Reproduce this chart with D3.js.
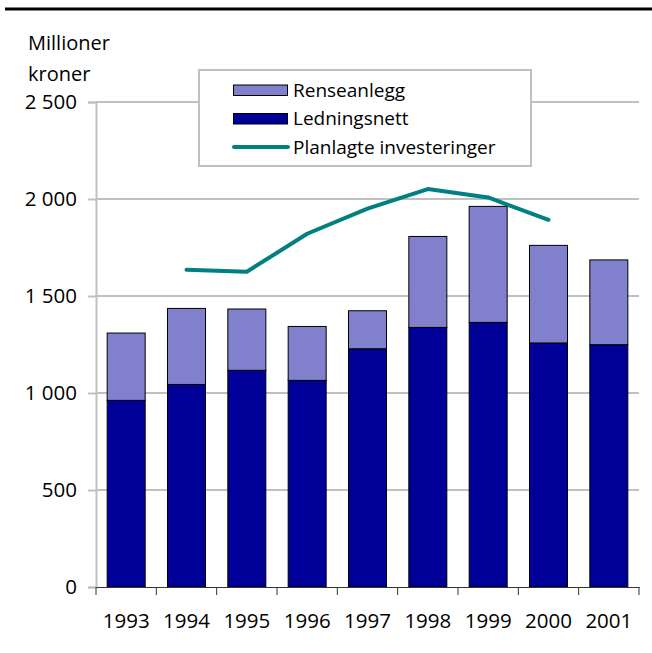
<!DOCTYPE html>
<html>
<head>
<meta charset="utf-8">
<script src="https://cdn.jsdelivr.net/npm/d3@7"></script>
<style>
  body { margin: 0; background: #fff; }
  svg { display: block; font-family: 'Open Sans', sans-serif; }
</style>
</head>
<body>
<div id="chart"></div>
<script>
'use strict'

const years = ['1993', '1994', '1995', '1996', '1997', '1998', '1999', '2000', '2001']
const ledningsnett = [962, 1044, 1117, 1065, 1228, 1338, 1364, 1258, 1249]
const renseanlegg = [347, 392, 316, 278, 196, 469, 598, 503, 437]
const planYears = ['1994', '1995', '1996', '1997', '1998', '1999', '2000']
const planlagte = [1635, 1625, 1821, 1950, 2051, 2008, 1893]
const yTicks = [0, 500, 1000, 1500, 2000, 2500]

const width = 652
const height = 653
const margin = { left: 96, right: 13, top: 102, bottom: 66 }

const colorRense = '#8080cc'
const colorLed = '#000099'
const colorPlan = '#008080'
const grid = '#c0c0c0'

const svg = d3.select('#chart')
  .append('svg')
  .attr('width', width)
  .attr('height', height)

// black rule at top
svg.append('line')
  .attr('x1', 5).attr('x2', width)
  .attr('y1', 9).attr('y2', 9)
  .attr('stroke', '#000').attr('stroke-width', 3)

const x = d3.scaleBand()
  .domain(years)
  .range([margin.left, width - margin.right])
  .paddingInner(0.37)
  .paddingOuter(0.185)

const y = d3.scaleLinear()
  .domain([0, 2500])
  .range([height - margin.bottom, margin.top])

// gridlines
svg.append('g')
  .selectAll('line')
  .data(yTicks.filter(d => d > 0))
  .enter()
  .append('line')
  .attr('x1', margin.left).attr('x2', width - margin.right)
  .attr('y1', d => y(d)).attr('y2', d => y(d))
  .attr('stroke', grid).attr('stroke-width', 2)

// y axis
const yAxis = svg.append('g')
  .attr('transform', 'translate(' + margin.left + ',0)')
  .call(d3.axisLeft(y).tickValues(yTicks).tickSize(8).tickPadding(11))
yAxis.select('.domain').attr('stroke', grid).attr('stroke-width', 2)
yAxis.selectAll('.tick line').attr('stroke', grid).attr('stroke-width', 2)
yAxis.selectAll('.tick text')
  .attr('font-size', 20.5).attr('fill', '#000')
  .attr('font-family', "'Open Sans', sans-serif")
  .text(d => d >= 1000 ? Math.floor(d / 1000) + ' ' + d3.format('03')(d % 1000) : d)

// stacked bars
const stack = years.map((yr, i) => ({ yr: yr, led: ledningsnett[i], rense: renseanlegg[i] }))

svg.append('g')
  .selectAll('rect')
  .data(stack)
  .enter()
  .append('rect')
  .attr('x', d => x(d.yr))
  .attr('width', x.bandwidth())
  .attr('y', d => y(d.led))
  .attr('height', d => y(0) - y(d.led))
  .attr('fill', colorLed)
  .attr('stroke', '#000').attr('stroke-width', 1)

svg.append('g')
  .selectAll('rect')
  .data(stack)
  .enter()
  .append('rect')
  .attr('x', d => x(d.yr))
  .attr('width', x.bandwidth())
  .attr('y', d => y(d.led + d.rense))
  .attr('height', d => y(d.led) - y(d.led + d.rense))
  .attr('fill', colorRense)
  .attr('stroke', '#000').attr('stroke-width', 1)

// x axis
const xAxis = svg.append('g')
  .attr('transform', 'translate(0,' + y(0) + ')')
  .call(d3.axisBottom(x).tickSize(0).tickPadding(26))
xAxis.select('.domain').attr('stroke', '#333').attr('stroke-width', 1)
xAxis.selectAll('.tick text')
  .attr('font-size', 20.5).attr('fill', '#000')
  .attr('font-family', "'Open Sans', sans-serif")

// ticks between categories
const bounds = d3.range(years.length + 1).map(i => margin.left + i * (width - margin.right - margin.left) / years.length)
xAxis.selectAll('.sep')
  .data(bounds)
  .enter()
  .append('line')
  .attr('x1', d => d).attr('x2', d => d)
  .attr('y1', 0).attr('y2', 8)
  .attr('stroke', '#333').attr('stroke-width', 1)

// planned investments line
const line = d3.line()
  .x((d, i) => x(planYears[i]) + x.bandwidth() / 2)
  .y(d => y(d))

svg.append('path')
  .datum(planlagte)
  .attr('d', line)
  .attr('fill', 'none')
  .attr('stroke', colorPlan)
  .attr('stroke-width', 4)
  .attr('stroke-linecap', 'round')
  .attr('stroke-linejoin', 'round')

// unit label
svg.append('text')
  .attr('x', 28).attr('y', 50)
  .attr('font-size', 20)
  .text('Millioner')
svg.append('text')
  .attr('x', 28).attr('y', 81)
  .attr('font-size', 20)
  .text('kroner')

// legend
const legend = svg.append('g')
legend.append('rect')
  .attr('x', 199).attr('y', 70)
  .attr('width', 332).attr('height', 96)
  .attr('fill', '#fff')
  .attr('stroke', grid).attr('stroke-width', 2)

const legendItems = [
  { label: 'Renseanlegg', type: 'rect', color: colorRense },
  { label: 'Ledningsnett', type: 'rect', color: colorLed },
  { label: 'Planlagte investeringer', type: 'line', color: colorPlan }
]

legendItems.forEach((item, i) => {
  const cy = 90 + i * 28.5
  if (item.type === 'rect') {
    legend.append('rect')
      .attr('x', 233.5).attr('y', cy - 5)
      .attr('width', 54).attr('height', 10.5)
      .attr('fill', item.color)
      .attr('stroke', '#000').attr('stroke-width', 1)
  } else {
    legend.append('line')
      .attr('x1', 234).attr('x2', 288)
      .attr('y1', cy).attr('y2', cy)
      .attr('stroke', item.color).attr('stroke-width', 4)
      .attr('stroke-linecap', 'round')
  }
  legend.append('text')
    .attr('x', 293).attr('y', cy + 6.5)
    .attr('font-size', 19)
    .text(item.label)
})
</script>
</body>
</html>
